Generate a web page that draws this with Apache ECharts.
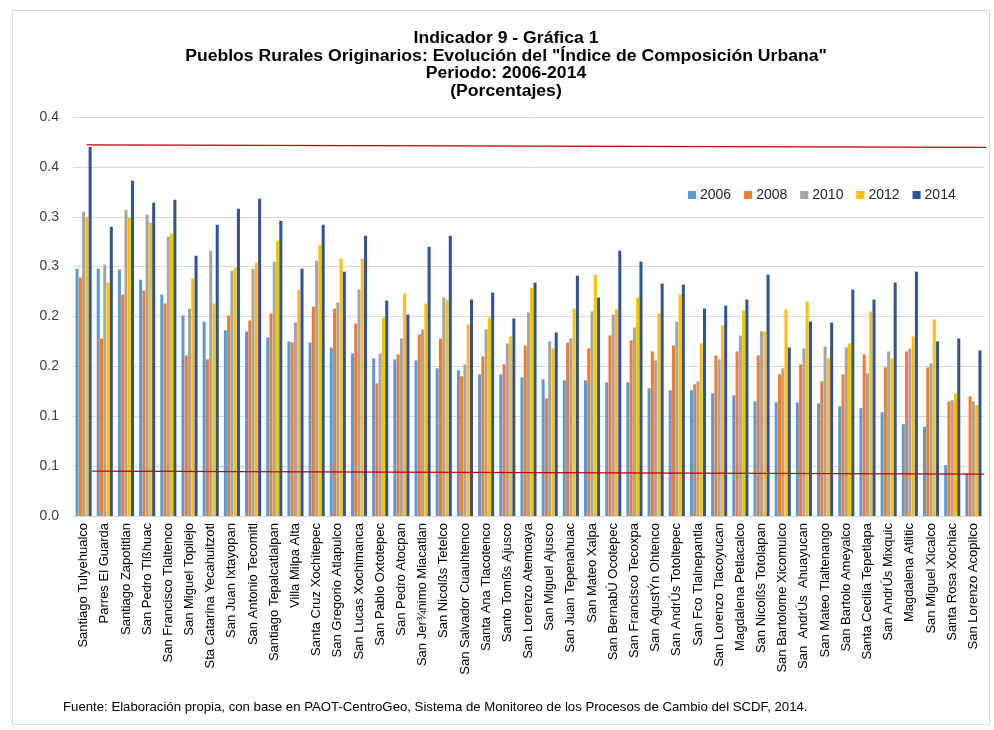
<!DOCTYPE html>
<html><head><meta charset="utf-8">
<script src="https://cdn.jsdelivr.net/npm/echarts@6.0.0/dist/echarts.min.js"></script>
<style>html,body{margin:0;padding:0;background:#fff}#c{width:994px;height:730px}</style>
</head><body><div id="c"></div>
<script>
const categories = [
  'Santiago Tulyehualco','Parres El Guarda','Santiago Zapotitlan','San Pedro Tlßhuac','San Francisco Tlaltenco',
  'San Miguel Topilejo','Sta Catarina Yecahuitzotl','San Juan Ixtayopan','San Antonio Tecomitl','Santiago Tepalcatlalpan',
  'Villa Milpa Alta','Santa Cruz Xochitepec','San Gregorio Atlapulco','San Lucas Xochimanca','San Pablo Oxtotepec',
  'San Pedro Atocpan','San Jer¾nimo Miacatlan','San Nicolßs Tetelco','San Salvador Cuauhtenco','Santa Ana Tlacotenco',
  'Santo Tomßs Ajusco','San Lorenzo Atemoaya','San Miguel Ajusco','San Juan Tepenahuac','San Mateo Xalpa',
  'San BernabÚ Ocotepec','San Francisco Tecoxpa','San AgustÝn Ohtenco','San AndrÚs Totoltepec','San Fco Tlalnepantla',
  'San Lorenzo Tlacoyucan','Magdalena Petlacalco','San Nicolßs Totolapan','San Bartolome Xicomulco','San  AndrÚs  Ahuayucan',
  'San Mateo Tlaltenango','San Bartolo Ameyalco','Santa Cecilia Tepetlapa','San AndrÚs Mixquic','Magdalena Atlitic',
  'San Miguel Xicalco','Santa Rosa Xochiac','San Lorenzo Acopilco'
];
const years = ['2006','2008','2010','2012','2014'];
const v2006 = [0.248,0.248,0.247,0.237,0.222,0.201,0.195,0.186,0.185,0.179,0.175,0.174,0.169,0.163,0.158,0.157,0.156,0.148,0.146,0.142,0.142,0.139,0.137,0.136,0.136,0.134,0.134,0.128,0.126,0.126,0.123,0.121,0.115,0.114,0.114,0.113,0.110,0.108,0.104,0.092,0.0895,0.051,0.043];
const v2008 = [0.239,0.178,0.222,0.226,0.213,0.161,0.157,0.201,0.196,0.203,0.174,0.210,0.208,0.193,0.133,0.162,0.182,0.178,0.140,0.160,0.152,0.171,0.118,0.174,0.168,0.181,0.176,0.165,0.171,0.132,0.161,0.165,0.161,0.142,0.152,0.135,0.142,0.162,0.149,0.165,0.149,0.115,0.120];
const v2010 = [0.305,0.252,0.307,0.302,0.280,0.208,0.266,0.246,0.248,0.255,0.194,0.256,0.214,0.227,0.163,0.178,0.187,0.219,0.152,0.187,0.173,0.204,0.175,0.178,0.205,0.202,0.189,0.156,0.195,0.135,0.157,0.181,0.185,0.148,0.168,0.170,0.169,0.143,0.165,0.168,0.153,0.116,0.115];
const v2012 = [0.300,0.234,0.299,0.294,0.283,0.238,0.213,0.249,0.254,0.276,0.227,0.272,0.258,0.258,0.199,0.223,0.213,0.217,0.192,0.199,0.180,0.229,0.168,0.208,0.242,0.207,0.219,0.203,0.222,0.173,0.191,0.206,0.185,0.207,0.215,0.158,0.173,0.205,0.158,0.180,0.197,0.123,0.111];
const v2014 = [0.370,0.290,0.336,0.314,0.317,0.261,0.292,0.308,0.318,0.296,0.248,0.292,0.245,0.281,0.216,0.202,0.270,0.281,0.217,0.224,0.198,0.234,0.184,0.241,0.219,0.266,0.255,0.233,0.232,0.208,0.211,0.217,0.242,0.169,0.195,0.194,0.227,0.217,0.234,0.245,0.175,0.178,0.166];
const yTickLabels = ['0.0','0.1','0.1','0.2','0.2','0.3','0.3','0.4','0.4'];
const upperLine = [0.372, 0.3695];
const lowerLine = [0.045, 0.042];
const titleLines = ['Indicador 9 - Gráfica 1','Pueblos Rurales Originarios: Evolución del "Índice de Composición Urbana"','Periodo: 2006-2014','(Porcentajes)'];
const sourceNote = 'Fuente: Elaboración propia, con base en PAOT-CentroGeo, Sistema de Monitoreo de los Procesos de Cambio del SCDF, 2014.';

const colors = ['#5B9BD5','#ED7D31','#A5A5A5','#FFC000','#2F5597'];
const seriesValues = [v2006, v2008, v2010, v2012, v2014];
const FONT = '"Liberation Sans", Arial, sans-serif';

const chart = echarts.init(document.getElementById('c'), null, {renderer: 'canvas'});
const barSeries = years.map((y, i) => ({
  name: y, type: 'bar', data: seriesValues[i], itemStyle: {color: colors[i]},
  barGap: '8%', barCategoryGap: '24%', animation: false
}));
const lineStyleRed = {color: '#C00000', width: 1.3};
chart.setOption({
  animation: false,
  color: colors,
  title: [
    {text: sourceNote, left: 58, top: 696,
     textStyle: {fontFamily: FONT, fontSize: 13.2, fontWeight: 'normal', color: '#000'}}
  ],
  legend: {
    data: years, left: 683, top: 183, itemWidth: 8, itemHeight: 8, itemGap: 13, icon: 'rect',
    textStyle: {fontFamily: FONT, fontSize: 14, color: '#262626', padding: [0,0,0,-1]}
  },
  graphic: [
    {type: 'rect', shape: {x: 12.5, y: 10.5, width: 977, height: 714}, style: {fill: 'none', stroke: '#D9D9D9', lineWidth: 1}, silent: true, z: -1},
    {type: 'text', x: 506, y: 29.5, scaleX: 1.1, silent: true,
     style: {text: titleLines.join('\n'), textAlign: 'center', textVerticalAlign: 'top', verticalAlign: 'top',
       fontFamily: FONT, fontSize: 16, fontWeight: 'bold', fill: '#000', lineHeight: 17.8}}
  ],
  grid: {left: 73, right: 10, top: 117, bottom: 214, containLabel: false, outerBoundsMode: 'none'},
  xAxis: [
    {type: 'category', data: categories,
     axisLine: {lineStyle: {color: '#D9D9D9'}}, axisTick: {show: false},
     axisLabel: {interval: 0, rotate: 90, margin: 7, fontFamily: FONT, fontSize: 13, color: '#000'}},
    {type: 'value', min: 0, max: 1, show: false}
  ],
  yAxis: {
    type: 'value', min: 0, max: 0.4, interval: 0.05,
    axisLine: {show: false}, axisTick: {show: false},
    splitLine: {lineStyle: {color: '#D9D9D9', width: 1}},
    axisLabel: {margin: 14, fontFamily: FONT, fontSize: 14, color: '#404040',
      formatter: v => yTickLabels[Math.round(v / 0.05)]}
  },
  series: barSeries.concat([
    {type: 'line', xAxisIndex: 1, data: [[0.015, upperLine[0]], [1.004, upperLine[1]]], symbol: 'none', lineStyle: lineStyleRed, clip: false, z: 5, silent: true},
    {type: 'line', xAxisIndex: 1, data: [[0.021, lowerLine[0]], [1.0, lowerLine[1]]], symbol: 'none', lineStyle: lineStyleRed, clip: false, z: 5, silent: true}
  ])
});
</script></body></html>
